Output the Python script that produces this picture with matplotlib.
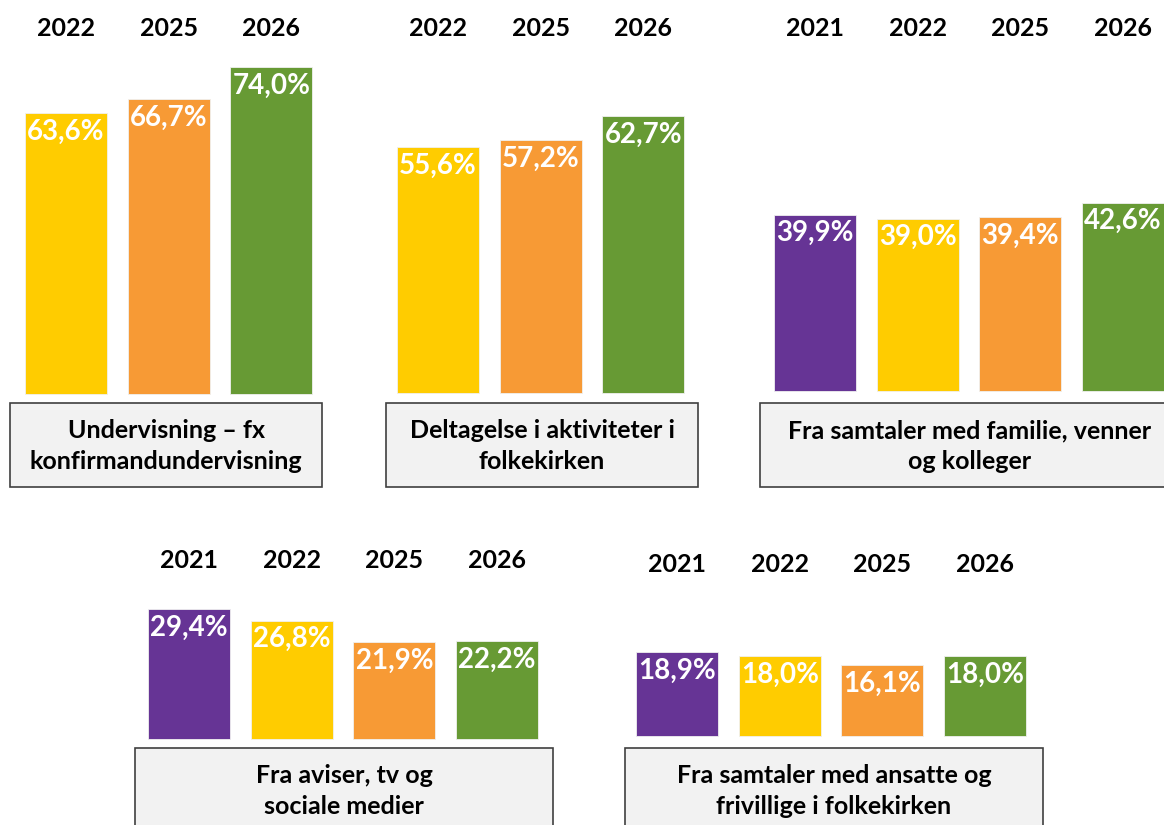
import matplotlib
matplotlib.use("Agg")
import matplotlib.pyplot as plt
from matplotlib.patches import Rectangle
from matplotlib.transforms import blended_transform_factory

# ---------------- data ----------------
titles = [
    "Undervisning – fx\nkonfirmandundervisning",
    "Deltagelse i aktiviteter i\nfolkekirken",
    "Fra samtaler med familie, venner\nog kolleger",
    "Fra aviser, tv og\nsociale medier",
    "Fra samtaler med ansatte og\nfrivillige i folkekirken",
]
years_p1 = ["2022", "2025", "2026"]
values_p1 = [63.6, 66.7, 74.0]
years_p2 = ["2022", "2025", "2026"]
values_p2 = [55.6, 57.2, 62.7]
years_p3 = ["2021", "2022", "2025", "2026"]
values_p3 = [39.9, 39.0, 39.4, 42.6]
years_p4 = ["2021", "2022", "2025", "2026"]
values_p4 = [29.4, 26.8, 21.9, 22.2]
years_p5 = ["2021", "2022", "2025", "2026"]
values_p5 = [18.9, 18.0, 16.1, 18.0]

year_colors = {"2021": "#663495", "2022": "#FFCC00", "2025": "#F79A35", "2026": "#679A34"}

# ---------------- layout (pixels) ----------------
W, H = 1164, 825
SCALE = 4.42        # px per percent
SPACING = 102.7     # px between bar centres
BAR_W = 0.80

layout = [
    # first centre x, bar bottom y, year label y, box (x0, y0, x1, y1), title centre y
    dict(cx=66, bottom=394, yy=28, box=(10, 403, 322, 487), ty=446),
    dict(cx=438, bottom=393, yy=28, box=(386, 403, 698, 487), ty=446),
    dict(cx=815, bottom=391, yy=28, box=(760, 403, 1172, 487), ty=446),
    dict(cx=189, bottom=739, yy=560, box=(135, 748, 553, 832), ty=791),
    dict(cx=677, bottom=736, yy=565, box=(625, 748, 1043, 832), ty=791),
]
all_years = [years_p1, years_p2, years_p3, years_p4, years_p5]
all_values = [values_p1, values_p2, values_p3, values_p4, values_p5]

FONT = ["Lato", "DejaVu Sans"]
plt.rcParams["font.family"] = FONT

fig = plt.figure(figsize=(W / 100, H / 100), dpi=100)
fig.patch.set_facecolor("white")


def fx(x):
    return x / W


def fy(y):
    return 1 - y / H


for lay, yrs, vals, title in zip(layout, all_years, all_values, titles):
    n = len(yrs)
    left = lay["cx"] - SPACING / 2
    right = left + SPACING * n
    top_px = lay["bottom"] - 80 * SCALE
    ax = fig.add_axes([fx(left), fy(lay["bottom"]), (right - left) / W,
                       (lay["bottom"] - top_px) / H])
    ax.set_xlim(-0.5, n - 0.5)
    ax.set_ylim(0, 80)
    ax.axis("off")
    ax.patch.set_alpha(0)
    xs = list(range(n))
    ax.bar(xs, vals, width=BAR_W, color=[year_colors[y] for y in yrs],
           edgecolor="#f0f0f0", linewidth=0.6, clip_on=False)
    tr = blended_transform_factory(ax.transData, fig.transFigure)
    for x, v, yr in zip(xs, vals, yrs):
        ax.annotate(f"{v:.1f}%".replace(".", ","), xy=(x, v), xytext=(0, -4),
                    textcoords="offset points", ha="center", va="top",
                    color="white", fontsize=20, fontweight="bold",
                    annotation_clip=False)
        ax.text(x, fy(lay["yy"]), yr, transform=tr,
                ha="center", va="center", fontsize=18, fontweight="bold", color="black")
    # label box
    x0, y0, x1, y1 = lay["box"]
    fig.patches.append(Rectangle((fx(x0), fy(y1)), (x1 - x0) / W, (y1 - y0) / H,
                                 transform=fig.transFigure, facecolor="#F2F2F2",
                                 edgecolor="#404040", linewidth=1.2))
    cx_box = (x0 + x1) / 2 if x1 <= W else (x0 + W) / 2 + 8
    fig.text(fx(cx_box), fy(lay["ty"]),
             title, ha="center", va="center", fontsize=18, fontweight="bold",
             color="black", linespacing=1.38)

fig.savefig("out.png", dpi=100, facecolor="white")
